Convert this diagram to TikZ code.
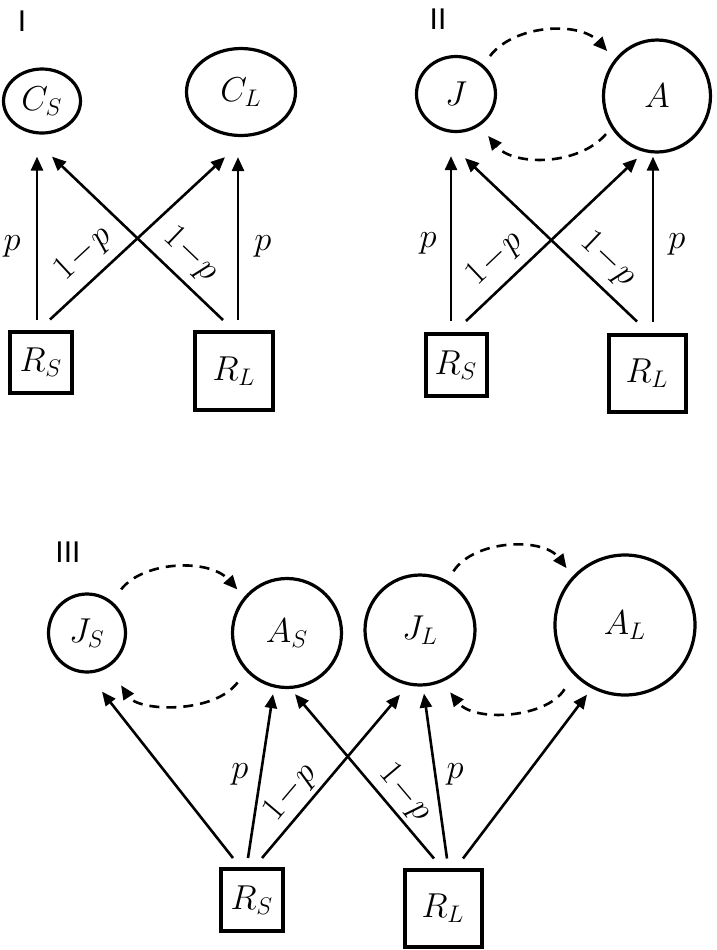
\documentclass[tikz,border=0pt]{standalone}
\usepackage{fontspec}
\newfontfamily\panelfont{Liberation Sans}
\usetikzlibrary{shapes.geometric, arrows.meta, positioning, calc}

\begin{document}
\begin{tikzpicture}[
    x=0.5pt, y=-0.5pt,
    font=\fontsize{16}{19}\selectfont,
    % Styles
    pool/.style={draw, ellipse, line width=1.6pt, inner sep=0pt, font=\fontsize{17}{20}\selectfont},
    source/.style={draw, rectangle, line width=2pt, inner sep=0pt, font=\fontsize{17}{20}\selectfont},
    wire/.style={->, >={Triangle[length=7pt, width=6pt]}, line width=1.3pt},
    flow/.style={wire, dash pattern=on 5pt off 3.5pt},
    prob/.style={inner sep=0pt},
    slope/.style={sloped, above, inner sep=4.5pt, font=\fontsize{16}{19}\selectfont},
    panel/.style={font=\panelfont\fontsize{15}{18}\selectfont}
]
    \useasboundingbox (0,0) rectangle (717,950);

    % --- PANEL I ---
    \node[panel] (num1) at (22,21) {I};
    \node[pool, minimum width=38.5pt, minimum height=32pt] (CS1) at (42,101) {$C_S$};
    \node[pool, minimum width=54.5pt, minimum height=43.5pt] (CL1) at (241,92) {$C_L$};
    \node[source, minimum width=31pt, minimum height=30.5pt] (RS1) at (41,362) {$R_S$};
    \node[source, minimum size=39pt] (RL1) at (234,371) {$R_L$};

    \draw[wire] ([shift={(-4,-10)}]RS1.north) -- node[prob, left=7.5pt, pos=0.45] {$p$} ([shift={(-5,22)}]CS1.south);
    \draw[wire] ([shift={(9,-10)}]RS1.north) -- node[slope, pos=0.29] {$1\!-\!p$} ([shift={(-16,20)}]CL1.south);
    \draw[wire] ([shift={(-11,-10)}]RL1.north) -- node[slope, pos=0.29] {$1\!-\!p$} ([shift={(10,22)}]CS1.south);
    \draw[wire] ([shift={(4,-10)}]RL1.north) -- node[prob, right=7.5pt, pos=0.45] {$p$} ([shift={(-3,20)}]CL1.south);

    % --- PANEL II ---
    \node[panel] (num2) at (438,19) {II};
    \node[pool, minimum width=39.5pt, minimum height=37.5pt] (J2) at (456,94) {$J$};
    \node[pool, minimum width=53.5pt, minimum height=56pt] (A2) at (657,96) {$A$};
    \node[source, minimum width=30.5pt, minimum height=31pt] (RS2) at (456,365) {$R_S$};
    \node[source, minimum size=38.5pt] (RL2) at (647,373) {$R_L$};

    % maturation and return
    \draw[flow, shorten <=5.5pt, shorten >=5.5pt] (J2.47) to[bend left=50] (A2.139);
    \draw[flow, shorten <=4pt, shorten >=6.5pt] (A2.215) to[bend left=50] (J2.307);

    \draw[wire] ([shift={(-5,-11)}]RS2.north) -- node[prob, left=6.5pt, pos=0.47] {$p$} ([shift={(-5,23)}]J2.south);
    \draw[wire] ([shift={(10,-11)}]RS2.north) -- node[slope, pos=0.27] {$1\!-\!p$} ([shift={(-20,5)}]A2.south);
    \draw[wire] ([shift={(-10,-11)}]RL2.north) -- node[slope, pos=0.27] {$1\!-\!p$} ([shift={(9,25)}]J2.south);
    \draw[wire] ([shift={(6,-11)}]RL2.north) -- node[prob, right=7pt, pos=0.47] {$p$} ([shift={(-4,3)}]A2.south);

    % --- PANEL III ---
    \node[panel] (num3) at (68,552) {III};
    \node[pool, minimum width=38.5pt, minimum height=39pt] (JS3) at (87,633) {$J_S$};
    \node[pool, minimum size=54.5pt] (AS3) at (287,633) {$A_S$};
    \node[pool, minimum size=55pt] (JL3) at (420,630) {$J_L$};
    \node[pool, minimum size=70pt] (AL3) at (625,625) {$A_L$};
    \node[source, minimum size=31pt] (RS3) at (252,900) {$R_S$};
    \node[source, minimum size=38.5pt] (RL3) at (443,908) {$R_L$};

    % maturation and return
    \draw[flow, shorten <=7.5pt, shorten >=5pt] (JS3.52) to[bend left=50] (AS3.140);
    \draw[flow, shorten <=7pt, shorten >=11pt] (AS3.223) to[bend left=55] (JS3.303);
    \draw[flow, shorten <=5.5pt, shorten >=5pt] (JL3.61) to[bend left=55] (AL3.137);
    \draw[flow, shorten <=8.5pt, shorten >=6.5pt] (AL3.224) to[bend left=55] (JL3.293);

    % R_S inputs
    \draw[wire] ([shift={(-19,-9)}]RS3.north) -- ([shift={(15,18)}]JS3.south);
    \draw[wire] ([shift={(-4,-9)}]RS3.north) -- node[prob, left=5.5pt, pos=0.51] {$p$} ([shift={(-14,5)}]AS3.south);
    \draw[wire] ([shift={(10,-9)}]RS3.north) -- node[slope, inner sep=2pt, pos=0.32] {$1\!-\!p$} ([shift={(-20,8)}]JL3.south);

    % R_L inputs
    \draw[wire] ([shift={(-9,-9)}]RL3.north) -- node[slope, inner sep=2pt, pos=0.32] {$1\!-\!p$} ([shift={(8,5)}]AS3.south);
    \draw[wire] ([shift={(4,-9)}]RL3.north) -- node[prob, right=5pt, pos=0.51] {$p$} ([shift={(4,7)}]JL3.south);
    \draw[wire] ([shift={(20,-9)}]RL3.north) -- ([shift={(-38,-2)}]AL3.south);

\end{tikzpicture}
\end{document}
